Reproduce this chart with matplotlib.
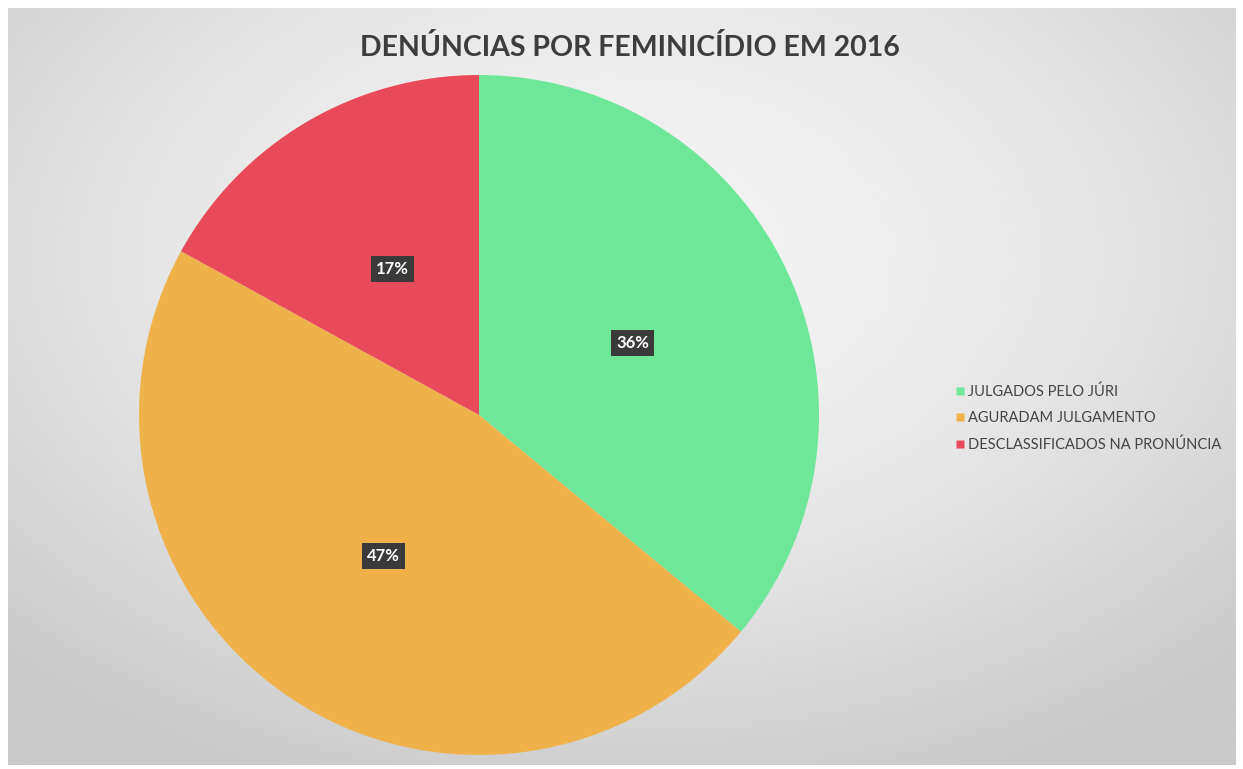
import numpy as np
import matplotlib
matplotlib.use("Agg")
import matplotlib.pyplot as plt
from matplotlib.lines import Line2D

# Data
categories = ["JULGADOS PELO JÚRI", "AGURADAM JULGAMENTO", "DESCLASSIFICADOS NA PRONÚNCIA"]
shares = [36, 47, 17]
colors = ["#6ee799", "#efb24a", "#e84a59"]
title = "DENÚNCIAS POR FEMINICÍDIO EM 2016"

plt.rcParams['font.family'] = ['Lato', 'DejaVu Sans']

W, H = 1243, 769
fig = plt.figure(figsize=(W / 100, H / 100), dpi=100, facecolor="white")

# Background panel with soft radial gradient
bg = fig.add_axes([8 / W, 4 / H, 1228 / W, 757 / H])
yy, xx = np.mgrid[-1:1:300j, -1:1:500j]
rr = np.sqrt((xx * 0.9) ** 2 + ((yy + 0.35) * 0.85) ** 2)
shade = np.clip(0.955 - 0.11 * rr ** 1.7, 0.79, 0.955)
bg.imshow(shade, cmap="gray", vmin=0, vmax=1, aspect="auto", interpolation="bicubic")
bg.set_axis_off()

# Pie
ax = fig.add_axes([139 / W, 14 / H, 680 / W, 680 / H])
wedges, _, autotexts = ax.pie(
    shares, colors=colors, startangle=90, counterclock=False,
    autopct=lambda p: f"{p:.0f}%", pctdistance=0.5,
    wedgeprops=dict(linewidth=0),
)
for t in autotexts:
    t.set_color("white")
    t.set_fontweight("bold")
    t.set_fontsize(12)
    t.set_bbox(dict(boxstyle="square,pad=0.3", facecolor="#3a3a3a", edgecolor="none"))
ax.set_xlim(-1, 1)
ax.set_ylim(-1, 1)
ax.set_aspect("equal")

fig.text(630 / W, 1 - 47 / H, title, ha="center", va="center",
         fontsize=20.5, fontweight="bold", color="#3d3d3d")

handles = [Line2D([0], [0], marker="s", linestyle="", markersize=6,
                  markerfacecolor=c, markeredgecolor="none") for c in colors]
fig.legend(handles, categories, loc="upper left", bbox_to_anchor=(942 / W, 1 - 371 / H),
           frameon=False, handlelength=0.6, handletextpad=0.3, labelspacing=0.85,
           prop=dict(size=10.5), labelcolor="#444444")

fig.savefig("out.png", dpi=100, facecolor="white")
